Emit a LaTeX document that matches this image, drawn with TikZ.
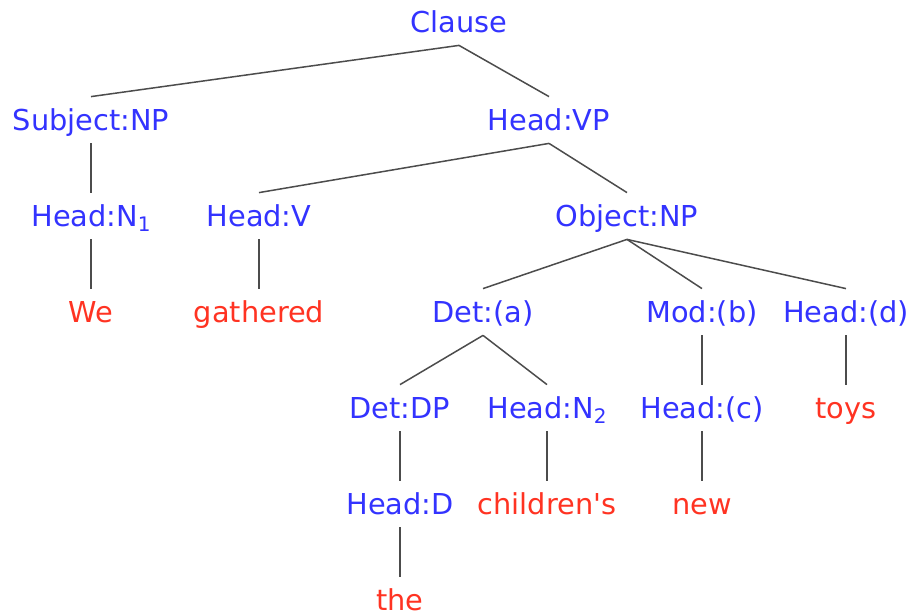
\documentclass[tikz,border=0pt]{standalone}
\usepackage{fontspec}
\setmainfont{DejaVu Sans}[Ligatures=TeXOff]
\definecolor{catblue}{RGB}{51,51,255}
\definecolor{wordred}{RGB}{255,51,34}
\newcommand{\lowsub}[1]{\raisebox{-2.5pt}{\fontsize{10}{10}\selectfont #1}}
\tikzset{
  cat/.style={text=catblue,font=\fontsize{14.4}{16}\selectfont,inner xsep=0pt,inner ysep=0pt,
    text height=10.5pt,text depth=0pt,minimum height=23pt},
  word/.style={cat,text=wordred},
  branch/.style={draw=black!70,line width=0.75pt}
}
\begin{document}
\begin{tikzpicture}[x=0.5pt,y=-0.5pt]
\useasboundingbox (0,0) rectangle (913,615);

\node[cat] at (459,22)(clause){Clause};
\node[cat] at (91,120)(subjnp){Subject:NP};
\node[cat] at (549,120)(headvp){Head:VP};
\node[cat] at (91,216)(headn1){Head:N\lowsub{1}};
\node[cat] at (259,216)(headv){Head:V};
\node[cat] at (627,216)(objnp){Object:NP};
\node[word] at (91,312)(we){We};
\node[word] at (259,312)(gathered){gathered};
\node[cat] at (483,312)(deta){Det:(a)};
\node[cat] at (702,312)(modb){Mod:(b)};
\node[cat] at (846,312)(headd){Head:(d)};
\node[cat] at (400,408)(detdp){Det:DP};
\node[cat] at (547,408)(headn2){Head:N\lowsub{2}};
\node[cat] at (702,408)(headc){Head:(c)};
\node[word] at (846,408)(toys){toys};
\node[cat] at (400,504)(headdet){Head:D};
\node[word] at (547,504)(childrens){children's};
\node[word] at (702,504)(new){new};
\node[word] at (400,600)(the){the};

\foreach \p/\c in {clause/subjnp,clause/headvp,subjnp/headn1,headn1/we,
    headvp/headv,headvp/objnp,headv/gathered,objnp/deta,objnp/modb,objnp/headd,
    deta/detdp,deta/headn2,modb/headc,headd/toys,detdp/headdet,headn2/childrens,
    headc/new,headdet/the}{
    \path[branch] (\p.south) -- (\c.north);
}
\end{tikzpicture}
\end{document}
